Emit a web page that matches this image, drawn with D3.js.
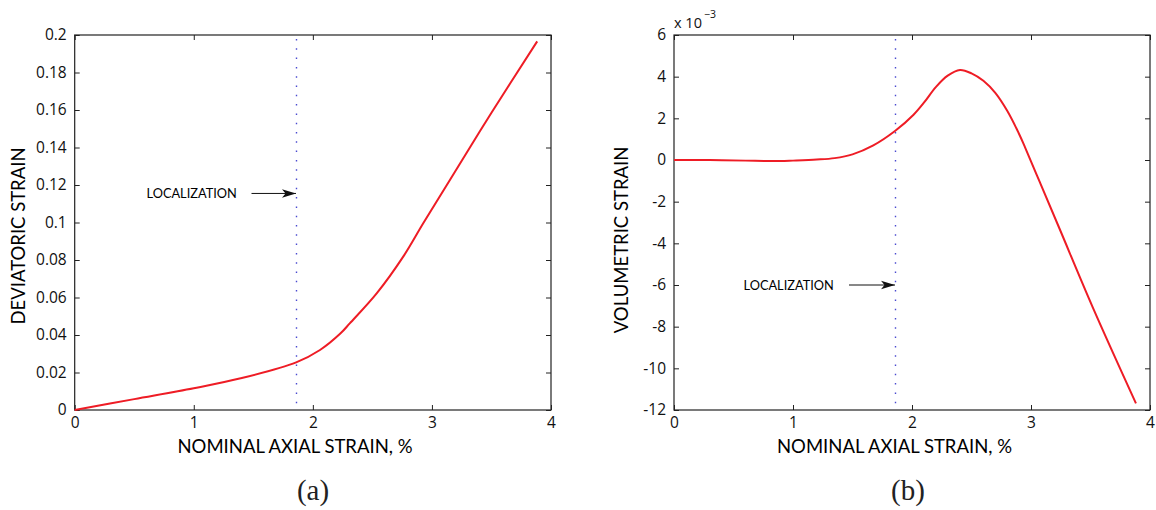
<!DOCTYPE html>
<html>
<head>
<meta charset="utf-8">
<script src="https://cdn.jsdelivr.net/npm/d3@7"></script>
<style>
  html, body { margin: 0; padding: 0; background: #fff; }
  svg { display: block; }
  .tick text { font-family: "Open Sans", Lato, sans-serif; font-size: 15.5px; fill: #111; }
  .tick line { stroke: #222; }
</style>
</head>
<body>
<script>
// Nominal axial strain (%) and deviatoric strain for panel (a)
const devAxial = [0, 0.5, 1.0, 1.394, 1.86, 2.06, 2.233, 2.31, 2.536, 2.759, 2.927, 3.151, 3.5, 3.884];
const devStrain = [0, 0.0058, 0.0116, 0.0169, 0.0254, 0.032, 0.0409, 0.0462, 0.0622, 0.0818, 0.0996, 0.1227, 0.1585, 0.1966];

// Nominal axial strain (%) and volumetric strain (x 10^-3) for panel (b)
const volAxial = [0, 0.3, 0.6, 0.891, 1.0, 1.2, 1.35, 1.5, 1.675, 1.857, 2.011, 2.1, 2.2, 2.3, 2.403, 2.5, 2.6, 2.7, 2.8, 2.9, 2.95, 3.076, 3.24, 3.518, 3.882];
const volStrain = [0, 0, -0.03, -0.05, -0.03, 0.02, 0.09, 0.27, 0.7, 1.39, 2.16, 2.75, 3.5, 4.05, 4.32, 4.16, 3.8, 3.22, 2.36, 1.25, 0.61, -1.09, -3.3, -7.06, -11.68];

// Axis ticks
const xTicks = [0, 1, 2, 3, 4];
const devTicks = [0, 0.02, 0.04, 0.06, 0.08, 0.1, 0.12, 0.14, 0.16, 0.18, 0.2];
const volTicks = [-12, -10, -8, -6, -4, -2, 0, 2, 4, 6];

// Onset of localization (axial strain, %)
const localizationStrain = 1.86;
const localizationArrowY = [0.1155, -6];

const W = 1156, H = 510;
const LABEL_FONT = "Lato, 'Open Sans', sans-serif";
const svg = d3.select("body").append("svg").attr("width", W).attr("height", H);

const defs = svg.append("defs");
defs.append("marker")
  .attr("id", "arrowhead")
  .attr("viewBox", "0 0 14 10")
  .attr("refX", 14).attr("refY", 5)
  .attr("markerWidth", 14).attr("markerHeight", 10)
  .attr("markerUnits", "userSpaceOnUse")
  .attr("orient", "auto")
  .append("path")
  .attr("d", "M0,0.8 L14,5 L0,9.2 L3.5,5 Z")
  .attr("fill", "#111");

function panel(opts) {
  const { left, right, top, bottom, xs, ys, yDomain, yTicks, yFmt, yLabel, yLabelPos, xLabelX, arrowY, labelX, arrowStart, caption, captionX } = opts;
  const x = d3.scaleLinear().domain([0, 4]).range([left, right]);
  const y = d3.scaleLinear().domain(yDomain).range([bottom, top]);
  const g = svg.append("g");

  // axes with inward ticks, mirrored on the top and right
  g.append("g").attr("transform", `translate(0,${bottom})`)
    .call(d3.axisBottom(x).tickValues(xTicks).tickSize(-5).tickPadding(7).tickFormat(d3.format("d")))
    .call(a => a.select(".domain").remove());
  g.append("g").attr("transform", `translate(0,${top})`)
    .call(d3.axisTop(x).tickValues(xTicks).tickSize(-5).tickFormat(""))
    .call(a => a.select(".domain").remove());
  g.append("g").attr("transform", `translate(${left},0)`)
    .call(d3.axisLeft(y).tickValues(yTicks).tickSize(-5).tickPadding(8).tickFormat(yFmt))
    .call(a => a.select(".domain").remove());
  g.append("g").attr("transform", `translate(${right},0)`)
    .call(d3.axisRight(y).tickValues(yTicks).tickSize(-5).tickFormat(""))
    .call(a => a.select(".domain").remove());

  g.append("rect")
    .attr("x", left).attr("y", top)
    .attr("width", right - left).attr("height", bottom - top)
    .attr("fill", "none").attr("stroke", "#222").attr("stroke-width", 1.2);

  // localization line
  const lx = Math.round(x(localizationStrain)) + 0.5;
  g.append("line")
    .attr("x1", lx).attr("x2", lx)
    .attr("y1", top + 4).attr("y2", bottom)
    .attr("stroke", "#4a4ad0").attr("stroke-width", 1.4)
    .attr("stroke-dasharray", "1.5,7.8");

  // strain curve
  const line = d3.line().x(d => x(d[0])).y(d => y(d[1])).curve(d3.curveCatmullRom.alpha(0.5));
  g.append("path")
    .datum(d3.zip(xs, ys))
    .attr("d", line)
    .attr("fill", "none").attr("stroke", "#ee1c25").attr("stroke-width", 2);

  // annotation
  g.append("text")
    .attr("x", labelX).attr("y", y(arrowY)).attr("dy", "0.36em")
    .attr("font-family", LABEL_FONT).attr("font-size", 12.8)
    .attr("fill", "#000").text("LOCALIZATION");
  g.append("line")
    .attr("x1", arrowStart).attr("x2", lx - 0.5)
    .attr("y1", y(arrowY)).attr("y2", y(arrowY))
    .attr("stroke", "#111").attr("stroke-width", 1)
    .attr("marker-end", "url(#arrowhead)");

  // axis titles
  g.append("text")
    .attr("x", xLabelX).attr("y", bottom + 43)
    .attr("text-anchor", "middle")
    .attr("font-family", LABEL_FONT).attr("font-size", 18.5)
    .attr("fill", "#000").text("NOMINAL AXIAL STRAIN, %");
  g.append("text")
    .attr("transform", `translate(${yLabelPos[0]},${yLabelPos[1]}) rotate(-90)`)
    .attr("text-anchor", "middle")
    .attr("font-family", LABEL_FONT).attr("font-size", 18.5)
    .attr("fill", "#000").text(yLabel);

  // panel caption
  g.append("text")
    .attr("x", captionX).attr("y", 500)
    .attr("text-anchor", "middle")
    .attr("font-family", "'Liberation Serif', 'DejaVu Serif', serif").attr("font-size", 29)
    .attr("fill", "#222").text(caption);

  return { x, y };
}

panel({
  left: 74.7, right: 551, top: 35, bottom: 410,
  xs: devAxial, ys: devStrain, yDomain: [0, 0.2], yTicks: devTicks,
  yFmt: d => String(+d.toFixed(2)),
  yLabel: "DEVIATORIC STRAIN", yLabelPos: [25, 236], xLabelX: 295,
  arrowY: localizationArrowY[0], labelX: 146.5, arrowStart: 251.5,
  caption: "(a)", captionX: 313
});

panel({
  left: 674, right: 1150, top: 35, bottom: 410,
  xs: volAxial, ys: volStrain, yDomain: [-12, 6], yTicks: volTicks,
  yFmt: d => String(d),
  yLabel: "VOLUMETRIC STRAIN", yLabelPos: [628, 240], xLabelX: 894.5,
  arrowY: localizationArrowY[1], labelX: 743.5, arrowStart: 849,
  caption: "(b)", captionX: 908
});

// exponent of the volumetric strain axis
const ex = svg.append("text")
  .attr("x", 674).attr("y", 28)
  .attr("font-family", "'Open Sans', Lato, sans-serif").attr("font-size", 14.5)
  .attr("fill", "#111");
ex.append("tspan").text("x 10");
ex.append("tspan").attr("dx", 2).attr("dy", -10).attr("font-size", 10.5).text("\u22123");
</script>
</body>
</html>
